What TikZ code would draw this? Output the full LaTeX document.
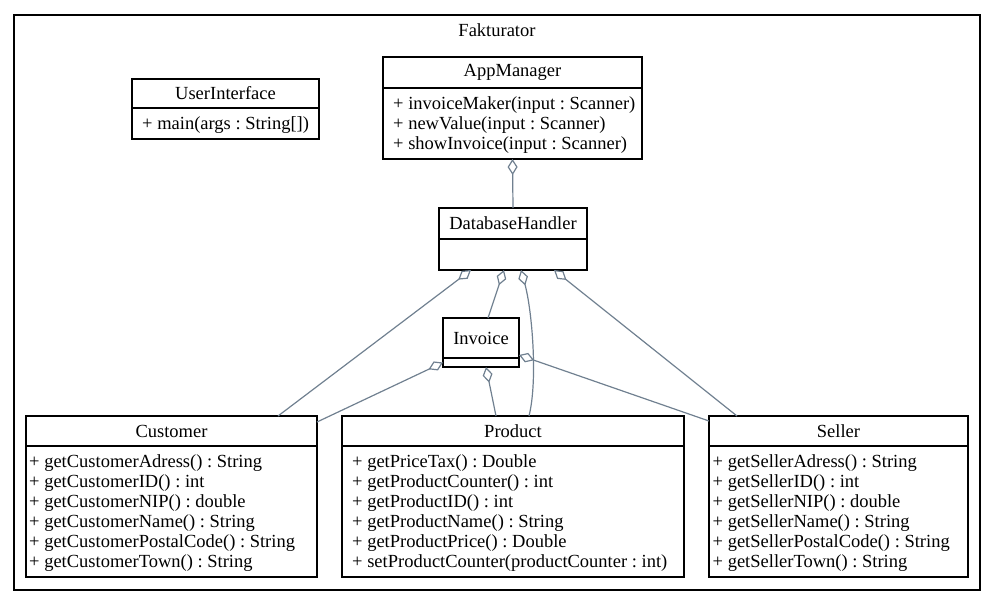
\documentclass[tikz,border=0pt]{standalone}
\usepackage{fontspec}
\setmainfont{Liberation Serif}
\newfontfamily\umlfont{Liberation Serif}
\usetikzlibrary{arrows.meta,calc}
\definecolor{edgecol}{RGB}{112,128,144}
\begin{document}
\frenchspacing
\begin{tikzpicture}[x=1pt,y=-1pt,
  every node/.style={font=\umlfont\fontsize{18.5}{20}\selectfont},
  boxline/.style={draw=black,line width=1.3pt,outer sep=0pt},
  frame/.style={boxline,anchor=north west,inner sep=0pt},
  hdr/.style n args={2}{boxline,anchor=north west,inner sep=0pt,align=center,
    minimum width=#1,minimum height=#2},
  compartment/.style n args={2}{boxline,anchor=north west,inner sep=0pt,
    minimum width=#1,minimum height=#2},
  members/.style={anchor=west,inner ysep=0pt,inner xsep=#1,align=left,yshift=-2pt},
  agg/.style={draw=edgecol,line width=1.2pt,{Diamond[open,length=16pt,width=10pt]}-}
]
\useasboundingbox (0,0) rectangle (995,605);

% package frame
\node[frame,minimum width=966,minimum height=575] (pkg) at (14,15) {};
\node (title) at (497,30) {Fakturator};

% UserInterface
\node[hdr={187}{29}] (uih) at (132,79) {UserInterface};
\node[compartment={187}{31}] (uib) at (uih.south west) {};
\node[members=10pt] (uit) at (uib.west) {+ main(args : String[])};

% AppManager
\node[hdr={259}{31}] (amh) at (383,57) {AppManager};
\node[compartment={259}{71}] (amb) at (amh.south west) {};
\node[members=10pt] (amt) at (amb.west)
  {+ invoiceMaker(input : Scanner)\\+ newValue(input : Scanner)\\+ showInvoice(input : Scanner)};

% DatabaseHandler
\node[hdr={148}{31}] (dbh) at (439,208) {DatabaseHandler};
\node[compartment={148}{31}] (dbb) at (dbh.south west) {};

% Invoice
\node[hdr={76}{40}] (invh) at (443,318) {Invoice};
\node[compartment={76}{9}] (invb) at (invh.south west) {};

% Customer
\node[hdr={291}{30}] (custh) at (26,416) {Customer};
\node[compartment={291}{131}] (custb) at (custh.south west) {};
\node[members=3pt] (custt) at (custb.west)
  {+ getCustomerAdress() : String\\+ getCustomerID() : int\\+ getCustomerNIP() : double\\%
   + getCustomerName() : String\\+ getCustomerPostalCode() : String\\+ getCustomerTown() : String};

% Product
\node[hdr={342}{30}] (prodh) at (342,416) {Product};
\node[compartment={342}{131}] (prodb) at (prodh.south west) {};
\node[members=10pt] (prodt) at (prodb.west)
  {+ getPriceTax() : Double\\+ getProductCounter() : int\\+ getProductID() : int\\%
   + getProductName() : String\\+ getProductPrice() : Double\\+ setProductCounter(productCounter : int)};

% Seller
\node[hdr={259}{30}] (selh) at (709,416) {Seller};
\node[compartment={259}{131}] (selb) at (selh.south west) {};
\node[members=3.5pt] (selt) at (selb.west)
  {+ getSellerAdress() : String\\+ getSellerID() : int\\+ getSellerNIP() : double\\%
   + getSellerName() : String\\+ getSellerPostalCode() : String\\+ getSellerTown() : String};

% aggregations
\draw[agg] (amb.south) -- (dbh.north);
\draw[agg] ([xshift=32pt]dbb.south west) -- ([xshift=252pt]custh.north west);
\draw[agg] ([xshift=65pt]dbb.south west) -- ([xshift=7pt]invh.north);
\draw[agg] ([xshift=82pt]dbb.south west) .. controls +(11,40) and +(9,-36) .. ([xshift=187pt]prodh.north west);
\draw[agg] ([xshift=115pt]dbb.south west) -- ([xshift=28pt]selh.north west);
\draw[agg] (invb.west) -- ([yshift=-6pt]custh.north east);
\draw[agg] ([xshift=5pt]invb.south) -- ([xshift=154pt]prodh.north west);
\draw[agg] ([yshift=3pt]invb.north east) -- ([yshift=-5pt]selh.north west);
\end{tikzpicture}
\end{document}
